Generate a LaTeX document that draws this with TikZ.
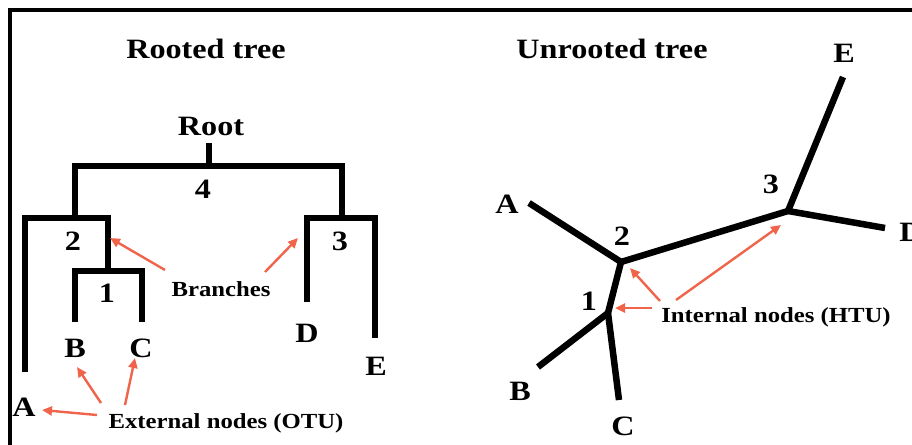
\documentclass[tikz,border=0pt]{standalone}
\usepackage{fontspec}
\setmainfont{Liberation Serif}[FakeStretch=1.15]
\usetikzlibrary{arrows.meta}
\definecolor{arr}{RGB}{240,100,75}
\begin{document}
\begin{tikzpicture}[x=1pt,y=-1pt,
  tree/.style={line width=6.5pt},
  pointer/.style={draw=arr,line width=2.4pt,-{Triangle[length=10pt,width=9pt]}},
  big/.style={font=\fontsize{28}{30}\selectfont\bfseries, inner sep=0pt, anchor=base},
  small/.style={font=\fontsize{21.5}{24}\selectfont\bfseries, inner sep=0pt, anchor=base},
]
\useasboundingbox (0,0) rectangle (912,444);
% frame
\draw[line width=4pt] (10,460) -- (10,10) -- (930,10);

% ---------- Rooted tree ----------
\node[big] (rtitle) at (206,59) {Rooted tree};
\node[big] (rootlbl) at (211,135) {Root};
\coordinate (rtop) at (209,143);
\coordinate (rj) at (209,166);
\coordinate (n2top) at (75,218);
\coordinate (n3top) at (342,218);
\coordinate (n1top) at (108,271);
\coordinate (Aend) at (25,372);
\coordinate (Bend) at (75,322);
\coordinate (Cend) at (142,322);
\coordinate (Dend) at (307,302);
\coordinate (Eend) at (375,338);
\draw[tree] (rtop) -- (rj);
\draw[tree] (n2top) |- (rj) -| (n3top);
\draw[tree] (Aend) |- (n2top) -| (n1top);
\draw[tree] (Bend) |- (n1top) -| (Cend);
\draw[tree] (Dend) |- (n3top) -| (Eend);

\node[big] (r4) at (203,198) {4};
\node[big] (r2) at (73,250) {2};
\node[big] (r1) at (107,302) {1};
\node[big] (r3) at (340,250) {3};
\node[big] (rA) at (24,416) {A};
\node[big] (rB) at (75,357) {B};
\node[big] (rC) at (141,357) {C};
\node[big] (rD) at (307,342) {D};
\node[big] (rE) at (376,375) {E};
\node[small] (branches) at (221,296) {Branches};
\node[small] (external) at (226,428) {External nodes (OTU)};

\coordinate (bt1) at (165,270);
\coordinate (bh1) at (110,238);
\coordinate (bt2) at (265,272);
\coordinate (bh2) at (298,238);
\coordinate (et1) at (97,415);
\coordinate (eh1) at (42,410);
\coordinate (et2) at (101,403);
\coordinate (eh2) at (77,367);
\coordinate (et3) at (125,405);
\coordinate (eh3) at (135,358);
\draw[pointer] (bt1) -- (bh1);
\draw[pointer] (bt2) -- (bh2);
\draw[pointer] (et1) -- (eh1);
\draw[pointer] (et2) -- (eh2);
\draw[pointer] (et3) -- (eh3);

% ---------- Unrooted tree ----------
\node[big] (utitle) at (612,59) {Unrooted tree};
\coordinate (u1) at (608,313);
\coordinate (u2) at (621,262);
\coordinate (u3) at (788,211);
\coordinate (uA) at (529,203);
\coordinate (uB) at (538,367);
\coordinate (uC) at (619,400);
\coordinate (uD) at (885,228);
\coordinate (uE) at (843,77);
\draw[tree] (uA) -- (u2);
\draw[tree] (u2) -- (u3);
\draw[tree] (u2) -- (u1);
\draw[tree] (u1) -- (uB);
\draw[tree] (u1) -- (uC);
\draw[tree] (u3) -- (uE);
\draw[tree] (u3) -- (uD);

\node[big] (uElbl) at (844,63) {E};
\node[big] (u3lbl) at (771,193) {3};
\node[big] (uAlbl) at (507,213) {A};
\node[big] (u2lbl) at (622,245) {2};
\node[big] (u1lbl) at (589,310) {1};
\node[big] (uBlbl) at (520,400) {B};
\node[big] (uClbl) at (623,435) {C};
\node[big] (uDlbl) at (911,241) {D};
\node[small] (internal) at (776,322) {Internal nodes (HTU)};

\coordinate (it1) at (676,300);
\coordinate (ih1) at (781,225);
\coordinate (it2) at (660,301);
\coordinate (ih2) at (630,268);
\coordinate (it3) at (652,308);
\coordinate (ih3) at (615,308);
\draw[pointer] (it1) -- (ih1);
\draw[pointer] (it2) -- (ih2);
\draw[pointer] (it3) -- (ih3);
\end{tikzpicture}
\end{document}
